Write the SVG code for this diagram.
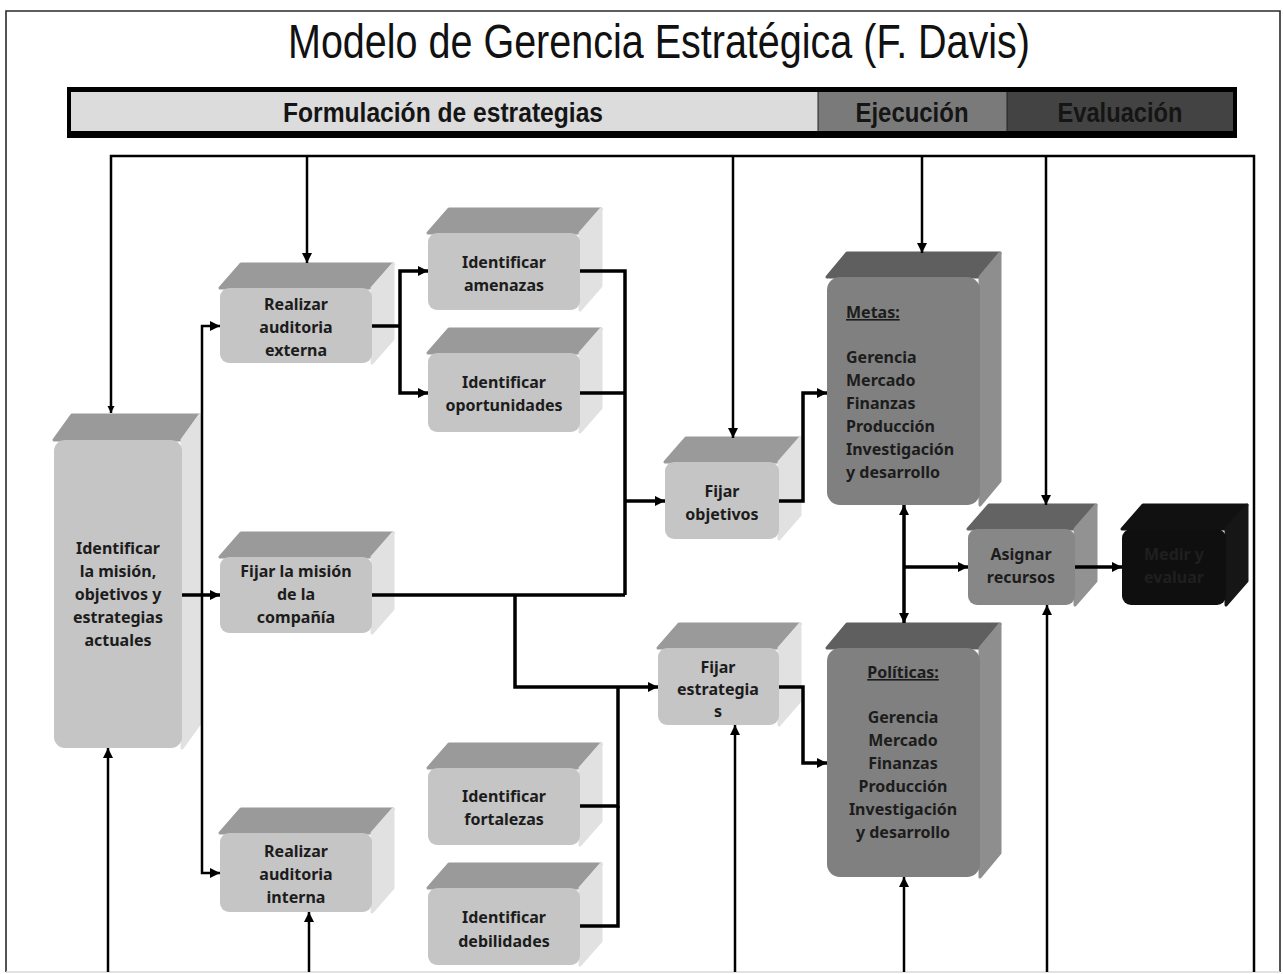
<svg xmlns="http://www.w3.org/2000/svg" width="1283" height="974" viewBox="0 0 1283 974">
<style>
.bg{fill:#ffffff}
.frame{fill:none;stroke:#2a2a2a;stroke-width:1.6}
.title{font-family:"Liberation Sans Narrow","Liberation Sans",Arial,sans-serif;font-size:48px;fill:#111;text-anchor:middle}
.hdr{font-family:"Liberation Sans Narrow","Liberation Sans",Arial,sans-serif;font-size:27px;font-weight:bold;fill:#151515;text-anchor:middle}
.t{font-family:"Noto Sans","DejaVu Sans",sans-serif;font-size:16px;font-weight:bold;fill:#1c1c1c;text-anchor:middle}
.tl{text-anchor:start}
.u{text-decoration:underline}
.lt-top{fill:#9a9a9a;stroke:#9a9a9a;stroke-width:3;stroke-linejoin:round}
.lt-side{fill:#e1e1e1;stroke:#e1e1e1;stroke-width:3;stroke-linejoin:round}
.lt-front{fill:#c5c5c5}
.md-top{fill:#5f5f5f;stroke:#5f5f5f;stroke-width:3;stroke-linejoin:round}
.md-side{fill:#8e8e8e;stroke:#8e8e8e;stroke-width:3;stroke-linejoin:round}
.md-front{fill:#808080}
.as-top{fill:#636363;stroke:#636363;stroke-width:3;stroke-linejoin:round}
.as-side{fill:#929292;stroke:#929292;stroke-width:3;stroke-linejoin:round}
.as-front{fill:#878787}
.dk-top{fill:#111;stroke:#111;stroke-width:3;stroke-linejoin:round}
.dk-side{fill:#161616;stroke:#161616;stroke-width:3;stroke-linejoin:round}
.dk-front{fill:#0f0f0f}
.dkt{fill:#1f1f1f}
.c{fill:none;stroke:#000;stroke-width:3.5}
.cf{fill:none;stroke:#000;stroke-width:2.5}
.a{marker-end:url(#arr)}
</style>
<defs>
<marker id="arr" markerUnits="userSpaceOnUse" markerWidth="11" markerHeight="11" refX="10" refY="5.5" orient="auto">
<path d="M0,0.5 L10,5.5 L0,10.5 Z" fill="#000"/>
</marker>
<marker id="arrs" markerUnits="userSpaceOnUse" markerWidth="8" markerHeight="8" refX="7" refY="4" orient="auto">
<path d="M0,0.5 L7,4 L0,7.5 Z" fill="#000"/>
</marker>
</defs>
<rect class="bg" x="0" y="0" width="1283" height="974"/>
<g id="frame">
<path class="frame" d="M6,972 V11 H1280 V972"/>
<path d="M6,972 H1280" stroke="#d8d8d8" stroke-width="1.5" fill="none"/>
</g>
<g id="title">
<text class="title" x="659" y="58" textLength="742" lengthAdjust="spacingAndGlyphs">Modelo de Gerencia Estratégica (F. Davis)</text>
</g>
<g id="header">
<rect x="67" y="87" width="1170" height="51" fill="#000"/>
<rect x="71" y="92" width="747" height="39" fill="#dcdcdc"/>
<rect x="818" y="92" width="189" height="39" fill="#7a7a7a"/>
<rect x="1007" y="92" width="226" height="39" fill="#434343"/>
<line x1="818" y1="92" x2="818" y2="131" stroke="#222" stroke-width="1"/>
<line x1="1007" y1="92" x2="1007" y2="131" stroke="#222" stroke-width="1"/>
<text class="hdr" x="443" y="122" textLength="320" lengthAdjust="spacingAndGlyphs">Formulación de estrategias</text>
<text class="hdr" x="912" y="122" textLength="113" lengthAdjust="spacingAndGlyphs">Ejecución</text>
<text class="hdr" x="1120" y="122" textLength="125" lengthAdjust="spacingAndGlyphs">Evaluación</text>
</g>
<g id="n-mision-actual">
<path class="lt-top" d="M54,440 L72,415 L200,415 L182,440 Z"/>
<path class="lt-side" d="M182,440 L200,415 L200,723 L182,748 Z"/>
<rect class="lt-front" x="54" y="440" width="128" height="308" rx="11"/>
<text class="t" x="118" y="554">Identificar</text>
<text class="t" x="118" y="577">la misión,</text>
<text class="t" x="118" y="600">objetivos y</text>
<text class="t" x="118" y="623">estrategias</text>
<text class="t" x="118" y="646">actuales</text>
</g>
<g id="n-aud-ext">
<path class="lt-top" d="M220,288 L241,264 L393,264 L372,288 Z"/>
<path class="lt-side" d="M372,288 L393,264 L393,339 L372,363 Z"/>
<rect class="lt-front" x="220" y="288" width="152" height="75" rx="9"/>
<text class="t" x="296" y="310">Realizar</text>
<text class="t" x="296" y="333">auditoria</text>
<text class="t" x="296" y="356">externa</text>
</g>
<g id="n-amenazas">
<path class="lt-top" d="M428,233 L449,209 L601,209 L580,233 Z"/>
<path class="lt-side" d="M580,233 L601,209 L601,286 L580,310 Z"/>
<rect class="lt-front" x="428" y="233" width="152" height="77" rx="9"/>
<text class="t" x="504" y="268">Identificar</text>
<text class="t" x="504" y="291">amenazas</text>
</g>
<g id="n-oportunidades">
<path class="lt-top" d="M428,353 L449,329 L601,329 L580,353 Z"/>
<path class="lt-side" d="M580,353 L601,329 L601,408 L580,432 Z"/>
<rect class="lt-front" x="428" y="353" width="152" height="79" rx="9"/>
<text class="t" x="504" y="388">Identificar</text>
<text class="t" x="504" y="411">oportunidades</text>
</g>
<g id="n-fijar-objetivos">
<path class="lt-top" d="M665,462 L686,438 L800,438 L779,462 Z"/>
<path class="lt-side" d="M779,462 L800,438 L800,515 L779,539 Z"/>
<rect class="lt-front" x="665" y="462" width="114" height="77" rx="9"/>
<text class="t" x="722" y="497">Fijar</text>
<text class="t" x="722" y="520">objetivos</text>
</g>
<g id="n-fijar-mision">
<path class="lt-top" d="M220,557 L241,533 L393,533 L372,557 Z"/>
<path class="lt-side" d="M372,557 L393,533 L393,609 L372,633 Z"/>
<rect class="lt-front" x="220" y="557" width="152" height="76" rx="9"/>
<text class="t" x="296" y="577">Fijar la misión</text>
<text class="t" x="296" y="600">de la</text>
<text class="t" x="296" y="623">compañía</text>
</g>
<g id="n-fijar-estrategias">
<path class="lt-top" d="M658,648 L679,624 L800,624 L779,648 Z"/>
<path class="lt-side" d="M779,648 L800,624 L800,701 L779,725 Z"/>
<rect class="lt-front" x="658" y="648" width="121" height="77" rx="9"/>
<text class="t" x="718" y="673">Fijar</text>
<text class="t" x="718" y="695">estrategia</text>
<text class="t" x="718" y="717">s</text>
</g>
<g id="n-aud-int">
<path class="lt-top" d="M220,833 L241,809 L393,809 L372,833 Z"/>
<path class="lt-side" d="M372,833 L393,809 L393,888 L372,912 Z"/>
<rect class="lt-front" x="220" y="833" width="152" height="79" rx="9"/>
<text class="t" x="296" y="857">Realizar</text>
<text class="t" x="296" y="880">auditoria</text>
<text class="t" x="296" y="903">interna</text>
</g>
<g id="n-fortalezas">
<path class="lt-top" d="M428,768 L449,744 L601,744 L580,768 Z"/>
<path class="lt-side" d="M580,768 L601,744 L601,821 L580,845 Z"/>
<rect class="lt-front" x="428" y="768" width="152" height="77" rx="9"/>
<text class="t" x="504" y="802">Identificar</text>
<text class="t" x="504" y="825">fortalezas</text>
</g>
<g id="n-debilidades">
<path class="lt-top" d="M428,888 L449,864 L601,864 L580,888 Z"/>
<path class="lt-side" d="M580,888 L601,864 L601,941 L580,965 Z"/>
<rect class="lt-front" x="428" y="888" width="152" height="77" rx="9"/>
<text class="t" x="504" y="923">Identificar</text>
<text class="t" x="504" y="947">debilidades</text>
</g>
<g id="n-metas">
<path class="md-top" d="M827,277 L847,253 L1000,253 L980,277 Z"/>
<path class="md-side" d="M980,277 L1000,253 L1000,481 L980,505 Z"/>
<rect class="md-front" x="827" y="277" width="153" height="228" rx="13"/>
<text class="t tl u" x="846" y="318">Metas:</text>
<text class="t tl" x="846" y="363">Gerencia</text>
<text class="t tl" x="846" y="386">Mercado</text>
<text class="t tl" x="846" y="409">Finanzas</text>
<text class="t tl" x="846" y="432">Producción</text>
<text class="t tl" x="846" y="455">Investigación</text>
<text class="t tl" x="846" y="478">y desarrollo</text>
</g>
<g id="n-politicas">
<path class="md-top" d="M827,648 L847,624 L1000,624 L980,648 Z"/>
<path class="md-side" d="M980,648 L1000,624 L1000,853 L980,877 Z"/>
<rect class="md-front" x="827" y="648" width="153" height="229" rx="13"/>
<text class="t u" x="903" y="678">Políticas:</text>
<text class="t" x="903" y="723">Gerencia</text>
<text class="t" x="903" y="746">Mercado</text>
<text class="t" x="903" y="769">Finanzas</text>
<text class="t" x="903" y="792">Producción</text>
<text class="t" x="903" y="815">Investigación</text>
<text class="t" x="903" y="838">y desarrollo</text>
</g>
<g id="n-asignar">
<path class="as-top" d="M968,529 L989,505 L1096,505 L1075,529 Z"/>
<path class="as-side" d="M1075,529 L1096,505 L1096,581 L1075,605 Z"/>
<rect class="as-front" x="968" y="529" width="107" height="76" rx="9"/>
<text class="t" x="1021" y="560">Asignar</text>
<text class="t" x="1021" y="583">recursos</text>
</g>
<g id="n-medir">
<path class="dk-top" d="M1122,529 L1143,505 L1247,505 L1226,529 Z"/>
<path class="dk-side" d="M1226,529 L1247,505 L1247,581 L1226,605 Z"/>
<rect class="dk-front" x="1122" y="529" width="104" height="76" rx="9"/>
<text class="t dkt" x="1174" y="560">Medir y</text>
<text class="t dkt" x="1174" y="583">evaluar</text>
</g>
<g id="connectors">
<path class="cf" d="M111,405 V156 H1254 V972"/>
<path d="M111,405 V413" fill="none" stroke="#000" stroke-width="2.5" marker-end="url(#arrs)"/>
<path class="cf a" d="M307,156 V263"/>
<path class="cf a" d="M733,156 V438"/>
<path class="cf a" d="M922,156 V253"/>
<path class="cf a" d="M1046,156 V505"/>
<path class="cf a" d="M108,972 V748"/>
<path class="cf a" d="M309,972 V912"/>
<path class="cf a" d="M735,972 V725"/>
<path class="cf a" d="M904,972 V877"/>
<path class="cf a" d="M1047,972 V605"/>
<path class="cf a" d="M202,600 V326 H220"/>
<path class="cf a" d="M202,600 V873 H220"/>
<path class="c a" d="M182,595 H220"/>
<path class="c" d="M372,326 H400"/>
<path class="c a" d="M400,326 V271 H428"/>
<path class="c a" d="M400,326 V393 H428"/>
<path class="c" d="M580,271 H625 V595"/>
<path class="c" d="M580,393 H625"/>
<path class="c a" d="M625,501 H665"/>
<path class="c" d="M372,595 H625"/>
<path class="c a" d="M515,595 V687 H658"/>
<path class="c" d="M580,806 H618 V687"/>
<path class="c" d="M580,926 H618 V806"/>
<path class="c a" d="M779,501 H803 V393 H827"/>
<path class="c a" d="M779,687 H803 V763 H827"/>
<path class="c a" d="M904,567 V505"/>
<path class="c a" d="M904,567 V623"/>
<path class="c a" d="M904,567 H968"/>
<path class="c a" d="M1075,567 H1122"/>
</g>
</svg>
